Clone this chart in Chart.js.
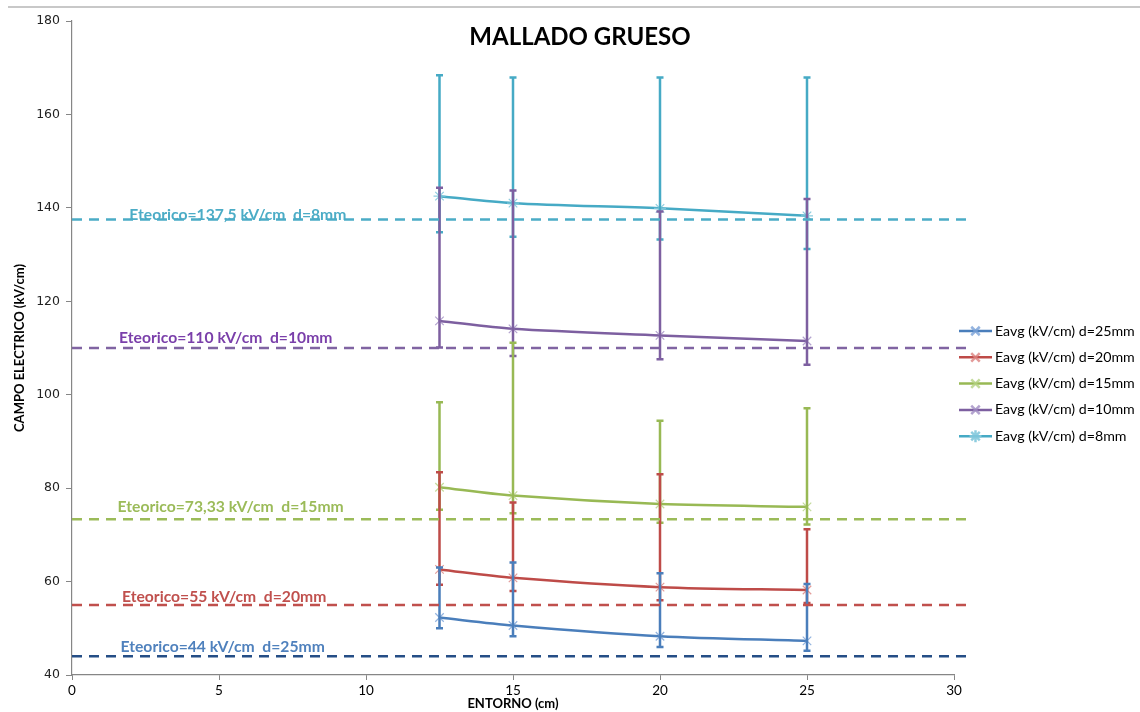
<!DOCTYPE html>
<html>
<head>
<meta charset="utf-8">
<title>Mallado grueso</title>
<script src="https://cdn.jsdelivr.net/npm/chart.js@4.4.1/dist/chart.umd.min.js"></script>
<style>
  html, body { margin: 0; padding: 0; background: #fff; }
  #wrap { width: 1140px; height: 712px; position: relative; }
</style>
</head>
<body>
<div id="wrap"><canvas id="campoChart" width="1140" height="712"></canvas></div>
<script>
// Distancia al entorno (cm)
const entorno = [12.5, 15, 20, 25];

// Separacion de electrodos (mm), en el orden de la leyenda
const separacion = [25, 20, 15, 10, 8];

// Campo medio Eavg (kV/cm) por separacion
const eavg25 = [52.3, 50.6, 48.3, 47.3];
const eavg20 = [62.6, 60.8, 58.8, 58.2];
const eavg15 = [80.2, 78.4, 76.6, 76.0];
const eavg10 = [115.8, 114.1, 112.7, 111.5];
const eavg8 = [142.5, 141.0, 139.9, 138.3];

// Extremos de las barras de error (max / min)
const max25 = [63.0, 64.1, 61.8, 59.5];
const min25 = [50.0, 48.3, 46.0, 45.2];
const max20 = [83.4, 76.9, 83.0, 71.2];
const min20 = [59.3, 58.0, 56.0, 55.4];
const max15 = [98.4, 111.1, 94.4, 97.1];
const min15 = [75.4, 74.6, 72.6, 72.2];
const max10 = [144.3, 143.7, 139.2, 141.9];
const min10 = [110.1, 108.3, 107.6, 106.4];
const max8 = [168.4, 167.9, 167.9, 167.9];
const min8 = [134.8, 133.8, 133.2, 131.2];

// Campo teorico para cada separacion (kV/cm)
const eteorico = [44, 55, 73.33, 110, 137.5];
const teoricoDesde = 0;
const teoricoHasta = 30.5;

const serieColors = ['#4A7EBB', '#BE4B48', '#98B954', '#7D5FA0', '#46AAC5'];
const markColors = ['rgba(120,160,215,0.8)', 'rgba(220,130,128,0.8)', 'rgba(180,210,130,0.8)', 'rgba(160,140,195,0.8)', 'rgba(130,200,220,0.9)'];
const teoricoColors = ['#254E86', '#C0504D', '#9BBB59', '#8064A2', '#4BACC6'];
const labelColors = ['#4F81BD', '#C0504D', '#9BBB59', '#7A3FAA', '#4BACC6'];

const medias = [eavg25, eavg20, eavg15, eavg10, eavg8];
const maximos = [max25, max20, max15, max10, max8];
const minimos = [min25, min20, min15, min10, min8];

const datasets = [];
medias.forEach((serie, i) => {
    datasets.push({
        label: 'Eavg (kV/cm) d=' + separacion[i] + 'mm',
        data: serie.map((v, k) => ({ x: entorno[k], y: v })),
        errMax: maximos[i],
        errMin: minimos[i],
        borderColor: serieColors[i],
        backgroundColor: markColors[i],
        borderWidth: 2.5,
        tension: 0.3,
        pointStyle: i === 4 ? 'star' : 'crossRot',
        pointRadius: 6,
        pointBorderColor: markColors[i],
        pointBorderWidth: 1.2,
        order: 1
    });
});

// lineas discontinuas del valor teorico
eteorico.forEach((v, i) => {
    datasets.push({
        label: 'teorico',
        isTeorico: true,
        data: [{ x: teoricoDesde, y: v }, { x: teoricoHasta, y: v }],
        borderColor: teoricoColors[i],
        borderWidth: 2.5,
        borderDash: [10, 7],
        pointRadius: 0,
        clip: false,
        order: 0
    });
});

function textoTeorico(i) {
    return 'Eteorico=' + String(eteorico[i]).replace('.', ',') + ' kV/cm  d=' + separacion[i] + 'mm';
}

// posicion de cada rotulo: x en cm, y en px por encima de la linea
const rotuloX = [1.65, 1.7, 1.55, 1.6, 1.95];
const rotuloSube = [9, 8, 12, 10, 5];

const errorBars = {
    id: 'errorBars',
    afterDatasetDraw(chart, args) {
        const ds = chart.data.datasets[args.index];
        if (!ds.errMax) return;
        const ctx = chart.ctx;
        const x = chart.scales.x, y = chart.scales.y;
        ctx.save();
        ctx.strokeStyle = ds.borderColor;
        ctx.lineWidth = 2.5;
        ds.data.forEach((p, k) => {
            const px = x.getPixelForValue(p.x);
            const top = y.getPixelForValue(ds.errMax[k]);
            const bot = y.getPixelForValue(ds.errMin[k]);
            ctx.beginPath();
            ctx.moveTo(px, top);
            ctx.lineTo(px, bot);
            ctx.moveTo(px - 3.5, top);
            ctx.lineTo(px + 3.5, top);
            ctx.moveTo(px - 3.5, bot);
            ctx.lineTo(px + 3.5, bot);
            ctx.stroke();
        });
        ctx.restore();
    }
};

const decorado = {
    id: 'decorado',
    beforeDraw(chart) {
        const ctx = chart.ctx;
        ctx.save();
        ctx.strokeStyle = '#C8C8C8';
        ctx.lineWidth = 2;
        ctx.beginPath();
        ctx.moveTo(8, 7);
        ctx.lineTo(chart.width, 7);
        ctx.stroke();
        ctx.restore();
    },
    afterDraw(chart) {
        const ctx = chart.ctx;
        const area = chart.chartArea;
        const x = chart.scales.x, y = chart.scales.y;
        ctx.save();

        // titulo dentro del area de trazado
        ctx.fillStyle = '#000';
        ctx.font = 'bold 24px Lato';
        ctx.textAlign = 'center';
        ctx.textBaseline = 'middle';
        ctx.fillText('MALLADO GRUESO', 580, 37);

        // rotulos de los valores teoricos
        ctx.font = 'bold 15.7px Lato';
        ctx.textAlign = 'left';
        eteorico.forEach((v, i) => {
            ctx.fillStyle = labelColors[i];
            ctx.fillText(textoTeorico(i), x.getPixelForValue(rotuloX[i]), y.getPixelForValue(v) - rotuloSube[i]);
        });

        // leyenda
        ctx.font = '14.2px Lato';
        ctx.textBaseline = 'middle';
        chart.data.datasets.forEach((ds, i) => {
            if (ds.isTeorico) return;
            const ly = area.top + 310 + i * 26.3;
            const lx = area.right + 5;
            ctx.strokeStyle = ds.borderColor;
            ctx.lineWidth = 2.5;
            ctx.beginPath();
            ctx.moveTo(lx, ly);
            ctx.lineTo(lx + 33, ly);
            ctx.stroke();
            ctx.strokeStyle = ds.pointBorderColor;
            ctx.fillStyle = ds.pointBorderColor;
            Chart.helpers.drawPoint(ctx, { pointStyle: ds.pointStyle, radius: 6, borderWidth: 1.2, rotation: 0 }, lx + 16.5, ly);
            ctx.fillStyle = '#000';
            ctx.fillText(ds.label, lx + 36, ly);
        });
        ctx.restore();
    }
};

const ctx = document.getElementById('campoChart').getContext('2d');
new Chart(ctx, {
    type: 'line',
    data: { datasets },
    options: {
        responsive: false,
        animation: false,
        events: [],
        layout: { padding: { top: 21, right: 186, left: 0, bottom: 0 } },
        plugins: {
            legend: { display: false },
            tooltip: { enabled: false }
        },
        scales: {
            x: {
                type: 'linear',
                min: 0,
                max: 30,
                afterFit(scale) { scale.height = 37; },
                ticks: { stepSize: 5, color: '#000', padding: 3, font: { family: 'Lato', size: 13.5 } },
                grid: { drawOnChartArea: false, tickLength: 5, color: '#868686' },
                border: { color: '#868686', width: 1.2 },
                title: {
                    display: true,
                    text: 'ENTORNO (cm)',
                    color: '#000',
                    padding: 0,
                    font: { family: 'Lato', size: 13, weight: 'bold' }
                }
            },
            y: {
                min: 40,
                max: 180,
                afterFit(scale) { scale.width = 72; },
                ticks: { stepSize: 20, color: '#222', padding: 6, font: { family: 'DejaVu Sans', size: 12.5 } },
                grid: { drawOnChartArea: false, tickLength: 6, color: '#868686' },
                border: { color: '#868686', width: 1.2 },
                title: {
                    display: true,
                    text: 'CAMPO ELECTRICO (kV/cm)',
                    color: '#000',
                    padding: { top: 12, bottom: 0 },
                    font: { family: 'Lato', size: 13, weight: 'bold' }
                }
            }
        }
    },
    plugins: [errorBars, decorado]
});
</script>
</body>
</html>
